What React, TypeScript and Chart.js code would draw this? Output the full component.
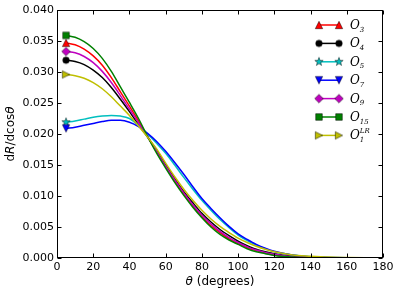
import React, { useEffect, useRef } from "react";
import { Chart, registerables } from "chart.js";

Chart.register(...registerables);

const theta = [5, 10, 15, 20, 25, 30, 35, 40, 45, 50, 55, 60, 65, 70, 75, 80, 85, 90, 95, 100, 105, 110, 115, 120, 130, 140, 150, 160, 170, 180];

const o3 = [0.0347, 0.0344, 0.0337, 0.0326, 0.0311, 0.0291, 0.0268, 0.0245, 0.0221, 0.0196, 0.0171, 0.0147, 0.0124, 0.0103, 0.0084, 0.0067, 0.0052, 0.0041, 0.0031, 0.0023, 0.0017, 0.0012, 0.0008, 0.0005, 0.0002, 0.00007, 0.00003, 0.00001, 0, 0];
const o4 = [0.0319, 0.0317, 0.0312, 0.0303, 0.0291, 0.0275, 0.0256, 0.0236, 0.0215, 0.0195, 0.0174, 0.015, 0.0128, 0.0107, 0.0089, 0.0072, 0.0058, 0.0046, 0.0036, 0.0027, 0.002, 0.0014, 0.001, 0.0007, 0.0003, 0.0001, 0.00004, 0.00002, 0.00001, 0];
const o5 = [0.0219, 0.0221, 0.0224, 0.0227, 0.0229, 0.023, 0.0229, 0.0225, 0.0214, 0.02, 0.0185, 0.0169, 0.015, 0.013, 0.0111, 0.0093, 0.0077, 0.0062, 0.0049, 0.0037, 0.0028, 0.0021, 0.0015, 0.001, 0.0005, 0.0002, 0.0001, 0.00004, 0.00002, 0];
const o7 = [0.0209, 0.0211, 0.0214, 0.0217, 0.022, 0.0222, 0.0222, 0.0219, 0.0212, 0.0201, 0.0188, 0.0172, 0.0154, 0.0135, 0.0115, 0.0096, 0.008, 0.0065, 0.0051, 0.0039, 0.003, 0.0022, 0.0016, 0.0011, 0.0005, 0.0002, 0.0001, 0.00004, 0.00002, 0];
const o9 = [0.0333, 0.0331, 0.0325, 0.0315, 0.0301, 0.0283, 0.0262, 0.024, 0.0218, 0.0196, 0.0172, 0.0148, 0.0126, 0.0105, 0.0086, 0.0069, 0.0055, 0.0043, 0.0033, 0.0025, 0.0018, 0.0013, 0.0009, 0.0006, 0.0002, 0.0001, 0.00004, 0.00002, 0, 0];
const o15 = [0.0359, 0.0356, 0.0349, 0.0338, 0.0322, 0.0301, 0.0276, 0.0251, 0.0225, 0.0196, 0.0169, 0.0145, 0.0122, 0.0101, 0.0082, 0.0065, 0.005, 0.0038, 0.0029, 0.0022, 0.0015, 0.001, 0.0007, 0.0004, 0.00015, 0.00005, 0.00002, 0.00001, 0, 0];
const o1lr = [0.0296, 0.0294, 0.029, 0.0283, 0.0273, 0.026, 0.0245, 0.023, 0.0213, 0.0195, 0.0176, 0.0153, 0.0131, 0.0111, 0.0093, 0.0077, 0.0063, 0.0051, 0.0041, 0.0032, 0.0025, 0.0019, 0.0014, 0.001, 0.0005, 0.0003, 0.00015, 0.00008, 0.00003, 0];

const xTicks = [0, 20, 40, 60, 80, 100, 120, 140, 160, 180];
const yTicks = [0, 0.005, 0.01, 0.015, 0.02, 0.025, 0.03, 0.035, 0.04];

const seriesLabels = [
  { base: "O", sub: "3", sup: "" },
  { base: "O", sub: "4", sup: "" },
  { base: "O", sub: "5", sup: "" },
  { base: "O", sub: "7", sup: "" },
  { base: "O", sub: "9", sup: "" },
  { base: "O", sub: "15", sup: "" },
  { base: "O", sub: "1", sup: "LR" },
];
const seriesValues = [o3, o4, o5, o7, o9, o15, o1lr];
const seriesColors = ["#ff0000", "#000000", "#00bfbf", "#0000ff", "#bf00bf", "#008000", "#bfbf00"];
const seriesMarkers = ["triUp", "circle", "star", "triDown", "diamond", "square", "triRight"];

function makeMarker(kind: string, fill: string): HTMLCanvasElement {
  const S = 14;
  const c = document.createElement("canvas");
  c.width = S;
  c.height = S;
  const g = c.getContext("2d")!;
  g.translate(S / 2, S / 2);
  g.beginPath();
  const r = 3.7;
  if (kind === "triUp") {
    g.moveTo(0, -r); g.lineTo(r, r); g.lineTo(-r, r); g.closePath();
  } else if (kind === "triDown") {
    g.moveTo(0, r); g.lineTo(r, -r); g.lineTo(-r, -r); g.closePath();
  } else if (kind === "triRight") {
    g.moveTo(r, 0); g.lineTo(-r, r); g.lineTo(-r, -r); g.closePath();
  } else if (kind === "circle") {
    g.arc(0, 0, 3.3, 0, Math.PI * 2);
  } else if (kind === "square") {
    g.rect(-3.3, -3.3, 6.6, 6.6);
  } else if (kind === "diamond") {
    const d = 4.3;
    g.moveTo(0, -d); g.lineTo(d, 0); g.lineTo(0, d); g.lineTo(-d, 0); g.closePath();
  } else if (kind === "star") {
    const ro = 4.4, ri = 1.8;
    for (let k = 0; k < 10; k++) {
      const a = -Math.PI / 2 + (k * Math.PI) / 5;
      const rr = k % 2 === 0 ? ro : ri;
      const px = rr * Math.cos(a), py = rr * Math.sin(a);
      if (k === 0) g.moveTo(px, py); else g.lineTo(px, py);
    }
    g.closePath();
  }
  g.fillStyle = fill;
  g.fill();
  g.lineWidth = 0.6;
  g.strokeStyle = "rgba(0,0,0,0.8)";
  g.stroke();
  return c;
}

function drawMixed(ctx: CanvasRenderingContext2D, parts: { t: string; italic: boolean }[], cx: number, cy: number, size: number) {
  const fontFor = (it: boolean) => `${it ? "italic " : ""}${size}px 'DejaVu Sans'`;
  let total = 0;
  for (const p of parts) { ctx.font = fontFor(p.italic); total += ctx.measureText(p.t).width; }
  let x = cx - total / 2;
  ctx.textBaseline = "middle";
  ctx.textAlign = "left";
  for (const p of parts) {
    ctx.font = fontFor(p.italic);
    ctx.fillText(p.t, x, cy);
    x += ctx.measureText(p.t).width;
  }
}

const decorPlugin = {
  id: "decor",
  afterDraw(chart: any, _args: any, _opts: any) {
    const ctx: CanvasRenderingContext2D = chart.ctx;
    const { left, right, top, bottom } = chart.chartArea;
    const xs = chart.scales.x, ys = chart.scales.y;
    ctx.save();
    ctx.strokeStyle = "#000";
    ctx.lineWidth = 1;
    const L = Math.round(left) + 0.5, R = Math.round(right) - 0.5, T = Math.round(top) + 0.5, B = Math.round(bottom) - 0.5;
    ctx.strokeRect(L, T, R - L, B - T);
    ctx.beginPath();
    for (const v of xTicks) {
      const px = Math.round(xs.getPixelForValue(v)) + 0.5;
      ctx.moveTo(px, B); ctx.lineTo(px, B - 4);
      ctx.moveTo(px, T); ctx.lineTo(px, T + 4);
    }
    for (const v of yTicks) {
      const py = Math.round(ys.getPixelForValue(v)) + 0.5;
      ctx.moveTo(L, py); ctx.lineTo(L + 4, py);
      ctx.moveTo(R, py); ctx.lineTo(R - 4, py);
    }
    ctx.stroke();

    ctx.fillStyle = "#000";
    drawMixed(ctx, [{ t: "θ", italic: true }, { t: " (degrees)", italic: false }], (left + right) / 2, 282, 12);
    ctx.save();
    ctx.translate(11, (top + bottom) / 2);
    ctx.rotate(-Math.PI / 2);
    drawMixed(ctx, [{ t: "d", italic: false }, { t: "R", italic: true }, { t: "/dcos", italic: false }, { t: "θ", italic: true }], 0, 0, 12);
    ctx.restore();

    chart.data.datasets.forEach((ds: any, i: number) => {
      const y = 25 + i * 18.4;
      const x0 = 319, x1 = 339;
      ctx.strokeStyle = ds.borderColor;
      ctx.lineWidth = 1.5;
      ctx.beginPath();
      ctx.moveTo(x0, y); ctx.lineTo(x1, y);
      ctx.stroke();
      const img = ds.pointStyle as HTMLCanvasElement;
      ctx.drawImage(img, x0 - img.width / 2, y - img.height / 2);
      ctx.drawImage(img, x1 - img.width / 2, y - img.height / 2);
      const lab = seriesLabels[i];
      ctx.fillStyle = "#000";
      ctx.textAlign = "left";
      ctx.textBaseline = "alphabetic";
      ctx.font = "italic 12px 'DejaVu Serif'";
      ctx.fillText(lab.base, 350, y + 4);
      const w = ctx.measureText(lab.base).width;
      ctx.font = "italic 7px 'DejaVu Serif'";
      ctx.fillText(lab.sub, 350 + w, y + 6.5);
      if (lab.sup) {
        ctx.fillText(lab.sup, 350 + w, y - 2);
      }
    });
    ctx.restore();
  },
};

export default function App() {
  const ref = useRef<HTMLCanvasElement | null>(null);
  useEffect(() => {
    if (!ref.current) return;
    const n = seriesValues.length;
    const datasets = seriesValues.map((vals, i) => ({
      label: seriesLabels[i].base + seriesLabels[i].sub,
      data: theta.map((t, j) => ({ x: t, y: vals[j] })),
      borderColor: seriesColors[i],
      backgroundColor: seriesColors[i],
      borderWidth: 1.5,
      pointStyle: makeMarker(seriesMarkers[i], seriesColors[i]),
      pointRadius: (c: any) => (c.dataIndex === 0 ? 5 : 0),
      pointHoverRadius: 0,
      fill: false,
      cubicInterpolationMode: "monotone" as const,
      order: n - i,
    }));
    const chart = new Chart(ref.current, {
      type: "line",
      data: { datasets },
      options: {
        animation: false,
        responsive: false,
        events: [],
        layout: { padding: { left: 0, top: 10, right: 16, bottom: 0 } },
        plugins: { legend: { display: false }, tooltip: { enabled: false } },
        scales: {
          x: {
            type: "linear",
            min: 0,
            max: 180,
            afterFit: (s: any) => { s.height = 36; },
            afterBuildTicks: (s: any) => { s.ticks = xTicks.map((v) => ({ value: v })); },
            grid: { display: false, drawTicks: false },
            border: { display: false },
            ticks: { color: "#000", padding: 3, font: { family: "DejaVu Sans", size: 11 }, maxRotation: 0, autoSkip: false },
          },
          y: {
            type: "linear",
            min: 0,
            max: 0.04,
            afterFit: (s: any) => { s.width = 57; },
            afterBuildTicks: (s: any) => { s.ticks = yTicks.map((v) => ({ value: v })); },
            grid: { display: false, drawTicks: false },
            border: { display: false },
            ticks: {
              color: "#000",
              padding: 3,
              font: { family: "DejaVu Sans", size: 11 },
              autoSkip: false,
              callback: (v: any) => Number(v).toFixed(3),
            },
          },
        },
      },
      plugins: [decorPlugin],
    });
    return () => chart.destroy();
  }, []);
  return (
    <div style={{ position: "absolute", left: 0, top: 0, width: 399, height: 294 }}>
      <canvas ref={ref} width={399} height={294} />
    </div>
  );
}
